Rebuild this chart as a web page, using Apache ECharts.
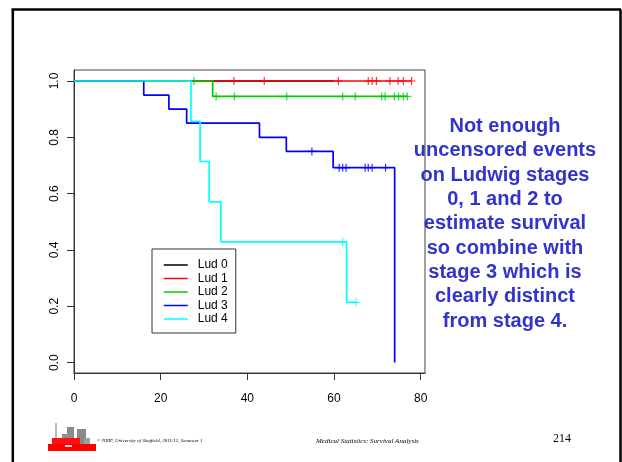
<!DOCTYPE html>
<html><head><meta charset="utf-8">
<script src="https://cdn.jsdelivr.net/npm/echarts@6/dist/echarts.min.js"></script>
<style>html,body{margin:0;padding:0;background:#fff}#c{width:622px;height:462px}</style>
</head><body><div id="c"></div>
<script>
// ---- data ----
const seriesNames = ['Lud 0', 'Lud 1', 'Lud 2', 'Lud 3', 'Lud 4'];
const xTicks = [0, 20, 40, 60, 80];
const yTicks = [0, 0.2, 0.4, 0.6, 0.8, 1.0];

// Kaplan-Meier step points (time, survival)
const lud0Times = [0, 60];
const lud0Surv  = [1, 1];
const lud1Times = [0, 77.9];
const lud1Surv  = [1, 1];
const lud2Times = [0, 32.0, 76.9];
const lud2Surv  = [1, 0.945, 0.945];
const lud3Times = [0, 16.1, 21.9, 26.0, 42.8, 49.0, 59.8, 74.0];
const lud3Surv  = [1, 0.95, 0.90, 0.85, 0.80, 0.75, 0.692, 0];
const lud4Times = [0, 27.0, 29.1, 31.2, 33.9, 62.9, 65.1];
const lud4Surv  = [1, 0.857, 0.714, 0.571, 0.429, 0.214, 0.214];

// censored observations (time, survival)
const lud1CensTimes = [36.9, 43.9, 61.0, 67.9, 68.8, 69.8, 72.9, 74.8, 76.0, 77.9];
const lud1CensSurv  = [1, 1, 1, 1, 1, 1, 1, 1, 1, 1];
const lud2CensTimes = [27.7, 32.8, 37.0, 49.1, 62.0, 64.9, 71.0, 71.8, 73.9, 74.9, 76.0, 76.9];
const lud2CensSurv  = [1, 0.945, 0.945, 0.945, 0.945, 0.945, 0.945, 0.945, 0.945, 0.945, 0.945, 0.945];
const lud3CensTimes = [54.9, 61.2, 62.0, 62.8, 67.2, 67.9, 68.8, 71.9];
const lud3CensSurv  = [0.75, 0.692, 0.692, 0.692, 0.692, 0.692, 0.692, 0.692];
const lud4CensTimes = [62.0, 65.1];
const lud4CensSurv  = [0.429, 0.214];

const noteLines = ['Not enough', 'uncensored events', 'on Ludwig stages', '0, 1 and 2 to',
  'estimate survival', 'so combine with', 'stage 3 which is', 'clearly distinct', 'from stage 4.'];

// ---- build ----
const colors = ['#000000', '#FF0000', '#00CD00', '#0000FF', '#00FFFF'];
const zip = (a, b) => a.map((v, i) => [v, b[i]]);
const curves = [zip(lud0Times, lud0Surv), zip(lud1Times, lud1Surv), zip(lud2Times, lud2Surv),
                zip(lud3Times, lud3Surv), zip(lud4Times, lud4Surv)];
const cens = [null, zip(lud1CensTimes, lud1CensSurv), zip(lud2CensTimes, lud2CensSurv),
              zip(lud3CensTimes, lud3CensSurv), zip(lud4CensTimes, lud4CensSurv)];

const series = [];
seriesNames.forEach((n, i) => {
  series.push({
    name: n, type: 'line', step: 'end', data: curves[i], symbol: 'none', showSymbol: false,
    lineStyle: { color: colors[i], width: 1.7 }, itemStyle: { color: colors[i] },
    animation: false, z: 2 + i * 2
  });
  if (cens[i]) {
    series.push({
      name: n + ' censored', type: 'scatter', data: cens[i],
      symbol: 'path://M4,0L4,8M0,4L8,4', symbolSize: 8,
      itemStyle: { color: 'rgba(0,0,0,0)', borderColor: colors[i], borderWidth: 1.2 },
      animation: false, z: 3 + i * 2
    });
  }
});

const chart = echarts.init(document.getElementById('c'), null, { renderer: 'canvas' });
chart.setOption({
  backgroundColor: '#fff',
  animation: false,
  grid: { left: 74, top: 70, width: 351, height: 303, show: true, borderColor: '#444', borderWidth: 1, backgroundColor: 'transparent' },
  xAxis: {
    type: 'value', min: 0, max: 81,
    axisLine: { show: true, onZero: false, lineStyle: { color: '#333', width: 1 } },
    axisTick: { show: true, length: 7, customValues: xTicks, lineStyle: { color: '#333' } },
    axisLabel: { customValues: xTicks, margin: 20, fontSize: 12, color: '#000', fontFamily: 'Liberation Sans, Arial' },
    splitLine: { show: false }
  },
  yAxis: {
    type: 'value', min: -0.037, max: 1.039,
    axisLine: { show: true, onZero: false, lineStyle: { color: '#333', width: 1 } },
    axisTick: { show: true, length: 7, customValues: yTicks, lineStyle: { color: '#333' } },
    axisLabel: { customValues: yTicks, rotate: 90, margin: 13, fontSize: 12, color: '#000',
      fontFamily: 'Liberation Sans, Arial', formatter: v => v.toFixed(1) },
    splitLine: { show: false }
  },
  legend: {
    data: seriesNames, orient: 'vertical', left: 152, top: 249,
    itemWidth: 24, itemHeight: 14, itemGap: 1.5,
    padding: [10, 8, 8, 11], borderColor: '#333', borderWidth: 1, backgroundColor: '#fff',
    selectedMode: false,
    itemStyle: { opacity: 0 },
    lineStyle: { width: 1.5 },
    textStyle: { fontSize: 12, color: '#000', fontFamily: 'Liberation Sans, Arial', padding: [0, 0, 0, 5] }
  },
  series: series,
  graphic: [
    // slide border
    { type: 'line', shape: { x1: 12.8, y1: 9.5, x2: 12.8, y2: 470 }, style: { stroke: '#000', lineWidth: 2.5 } },
    { type: 'line', shape: { x1: 11.5, y1: 9.5, x2: 621, y2: 9.5 }, style: { stroke: '#000', lineWidth: 2.5 } },
    { type: 'line', shape: { x1: 620.5, y1: 9.5, x2: 620.5, y2: 470 }, style: { stroke: '#000', lineWidth: 2.5 } },
    // note text
    { type: 'text', x: 505, y: 114.5, z: 100,
      style: { text: noteLines.join('\n'), textAlign: 'center', textVerticalAlign: 'top',
        font: 'bold 20px "Liberation Sans", Arial', lineHeight: 24.3, fill: '#3333CC' } },
    // logo approximation
    { type: 'group', children: [
      { type: 'rect', shape: { x: 55, y: 423, width: 2, height: 24 }, style: { fill: '#bbbbbb' } },
      { type: 'rect', shape: { x: 67, y: 427, width: 7, height: 14 }, style: { fill: '#8a8a8a' } },
      { type: 'rect', shape: { x: 62, y: 434, width: 10, height: 12 }, style: { fill: '#909090' } },
      { type: 'rect', shape: { x: 77, y: 429, width: 9, height: 18 }, style: { fill: '#8a8a8a' } },
      { type: 'rect', shape: { x: 84, y: 438, width: 6, height: 10 }, style: { fill: '#a0a0a0' } },
      { type: 'rect', shape: { x: 52, y: 438, width: 28, height: 8 }, style: { fill: '#ff1010' } },
      { type: 'rect', shape: { x: 48, y: 444, width: 48, height: 7 }, style: { fill: '#ff0000' } },
      { type: 'rect', shape: { x: 65, y: 445, width: 7, height: 2 }, style: { fill: '#ffdddd' } }
    ] },
    { type: 'text', x: 97, y: 441, style: { text: '© NRIF, University of Sheffield, 2011/12, Semester 1',
        font: 'italic 5px "Liberation Serif", "Times New Roman", serif', fill: '#000', textVerticalAlign: 'middle' } },
    { type: 'text', x: 316, y: 441, style: { text: 'Medical Statistics: Survival Analysis',
        font: 'italic 7px "Liberation Serif", "Times New Roman", serif', fill: '#000', textVerticalAlign: 'middle' } },
    { type: 'text', x: 553, y: 439, style: { text: '214',
        font: '12px "Liberation Serif", "Times New Roman", serif', fill: '#000', textVerticalAlign: 'middle' } }
  ]
});
</script>
</body></html>
